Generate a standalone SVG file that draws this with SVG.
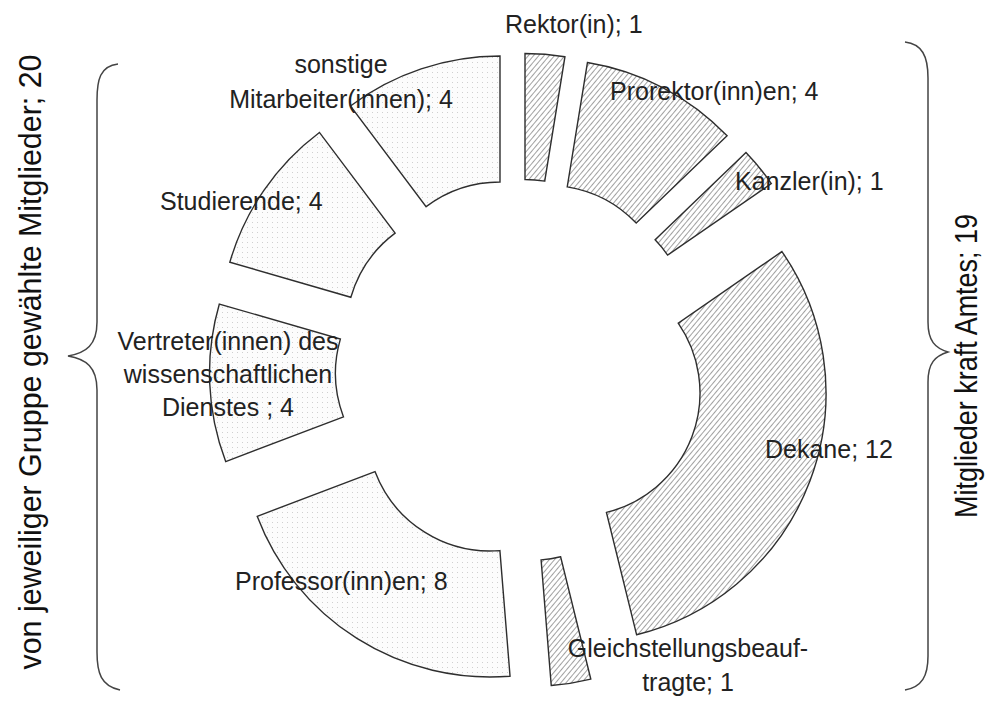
<svg xmlns="http://www.w3.org/2000/svg" width="988" height="704" viewBox="0 0 988 704">
<defs>
<pattern id="hatch" width="4" height="4" patternUnits="userSpaceOnUse" patternTransform="rotate(40)">
<rect width="4" height="4" fill="#ffffff"/>
<line x1="0" y1="0" x2="0" y2="4" stroke="#6e6e6e" stroke-width="1.3"/>
</pattern>
<pattern id="dots" width="5" height="5" patternUnits="userSpaceOnUse">
<rect width="5" height="5" fill="#fcfcfc"/>
<rect x="2" y="2" width="1" height="1" fill="#cfcfcf"/>
</pattern>
</defs>
<style>
.seg{stroke:#2e2e2e;stroke-width:1.4;stroke-linejoin:miter}
.amt{fill:url(#hatch)}
.gew{fill:url(#dots)}
.lbl{font-family:"Liberation Sans",Arial,Helvetica,sans-serif;font-size:25px;fill:#222}
.mid{text-anchor:middle}
.side{font-family:"Liberation Sans",Arial,Helvetica,sans-serif;font-size:32px;fill:#111;text-anchor:middle}
.brace{fill:none;stroke:#444;stroke-width:1.5}
</style>
<rect width="988" height="704" fill="#ffffff"/>

<g id="rektor">
<path class="seg amt" d="M525,53.5 A249,249 0 0 1 564.94,56.72 L544.73,181.09 A123,123 0 0 0 525,179.5 Z"/>
<text class="lbl" x="505" y="33">Rektor(in); 1</text>
</g>
<g id="prorektor">
<path class="seg amt" d="M587.44,62.52 A249,249 0 0 1 727.08,135.82 L636.21,223.1 A123,123 0 0 0 567.23,186.89 Z"/>
<text class="lbl" x="610" y="100">Prorektor(inn)en; 4</text>
</g>
<g id="kanzler">
<path class="seg amt" d="M745.98,152.52 A249,249 0 0 1 771.33,183.55 L667.63,255.13 A123,123 0 0 0 655.11,239.8 Z"/>
<text class="lbl" x="735" y="190">Kanzler(in); 1</text>
</g>
<g id="dekane">
<path class="seg amt" d="M781.93,251.55 A249,249 0 0 1 636.59,634.76 L606.44,512.43 A123,123 0 0 0 678.23,323.13 Z"/>
<text class="lbl" x="765" y="458">Dekane; 12</text>
</g>
<g id="gleichstellung">
<path class="seg amt" d="M590.79,679.06 A249,249 0 0 1 551.24,685.49 L541.1,559.9 A123,123 0 0 0 560.64,556.73 Z"/>
<text class="lbl mid" x="688" y="657">Gleichstellungsbeauf-</text>
<text class="lbl mid" x="688" y="691">tragte; 1</text>
</g>
<g id="professoren">
<path class="seg gew" d="M510.04,676.19 A249,249 0 0 1 257.18,516.3 L374.99,471.62 A123,123 0 0 0 499.9,550.6 Z"/>
<text class="lbl" x="235" y="590">Professor(inn)en; 8</text>
</g>
<g id="wiss-dienst">
<path class="seg gew" d="M225.68,461.6 A249,249 0 0 1 219.33,304.02 L340.35,339.08 A123,123 0 0 0 343.49,416.92 Z"/>
<text class="lbl mid" x="228" y="350">Vertreter(innen) des</text>
<text class="lbl mid" x="228" y="383">wissenschaftlichen</text>
<text class="lbl mid" x="228" y="416">Dienstes ; 4</text>
</g>
<g id="studierende">
<path class="seg gew" d="M229.83,262.22 A249,249 0 0 1 319.41,132.44 L395.11,233.17 A123,123 0 0 0 350.85,297.28 Z"/>
<text class="lbl" x="160" y="210">Studierende; 4</text>
</g>
<g id="sonstige">
<path class="seg gew" d="M350.41,105.94 A249,249 0 0 1 500,56 L500,182 A123,123 0 0 0 426.11,206.67 Z"/>
<text class="lbl mid" x="341" y="73">sonstige</text>
<text class="lbl mid" x="341" y="108">Mitarbeiter(innen); 4</text>
</g>

<g id="gewaehlte">
<path class="brace" d="M118,64 C100,66 97,80 97,100 L97,322 C97,345 86,353 68,356 C86,359 97,367 97,390 L97,652 C97,673 101,686 120,690"/>
<text class="side" transform="translate(41,362) rotate(-90)" textLength="615" lengthAdjust="spacingAndGlyphs">von jeweiliger Gruppe gewählte Mitglieder; 20</text>
</g>
<g id="kraft-amtes">
<path class="brace" d="M905,42 C922,44 928,56 928,78 L928,322 C928,341 935,348 948,352 C935,356 928,363 928,382 L928,656 C928,676 922,687 905,690"/>
<text class="side" transform="translate(977,366) rotate(-90)" textLength="304" lengthAdjust="spacingAndGlyphs">Mitglieder kraft Amtes; 19</text>
</g>
<g id="connectors"></g>
</svg>
